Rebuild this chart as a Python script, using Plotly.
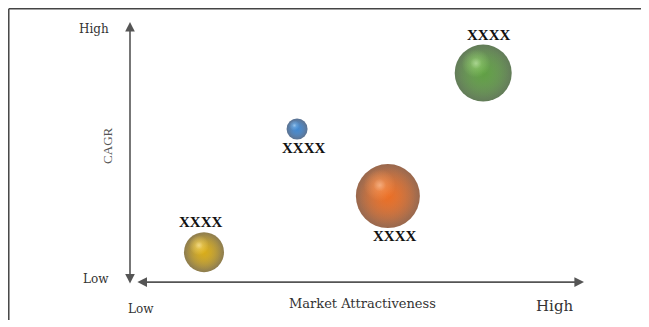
import plotly.graph_objects as go

# ---- data ----
segments = ["Segment A", "Segment B", "Segment C", "Segment D"]
market_attractiveness = [1.63, 3.68, 5.68, 7.78]   # x (0-10 scale, Low..High)
cagr = [1.25, 5.93, 3.38, 8.06]                    # y (0-10 scale, Low..High)
market_size = [40, 21, 64, 57]                     # bubble size
labels = ["XXXX", "XXXX", "XXXX", "XXXX"]

# ---- style ----
label_side = [1, -1, -1, 1]          # 1 = above bubble, -1 = below
label_dx = [-4, 6, 7, 5]             # small horizontal nudges (px)
edge_colors = ["#5e4500", "#123563", "#6e2700", "#1f4410"]
main_colors = ["#d4a300", "#2c7bcc", "#e85f0e", "#4f9530"]
glow_colors = ["#ffe070", "#86c2f5", "#ffa060", "#9fdc78"]


def rgba(hex_color, a):
    h = hex_color.lstrip("#")
    r, g, b = int(h[0:2], 16), int(h[2:4], 16), int(h[4:6], 16)
    return "rgba(%d,%d,%d,%.2f)" % (r, g, b, a)


x_tick_labels = ["Low", "High"]
y_tick_labels = ["Low", "High"]

fig = go.Figure()

# main spheres: dark rim -> body colour
fig.add_trace(go.Scatter(
    x=market_attractiveness, y=cagr, mode="markers",
    marker=dict(size=market_size, sizemode="diameter", sizeref=1,
                color=edge_colors,
                gradient=dict(type="radial", color=main_colors),
                line=dict(width=0)),
    hoverinfo="skip", showlegend=False))
# body colour boost
fig.add_trace(go.Scatter(
    x=market_attractiveness, y=cagr, mode="markers",
    marker=dict(size=[s * 0.9 for s in market_size], sizemode="diameter", sizeref=1,
                color=[rgba(c, 0) for c in main_colors],
                gradient=dict(type="radial", color=[rgba(c, 1) for c in main_colors]),
                line=dict(width=0)),
    hoverinfo="skip", showlegend=False))

# specular highlights (offset up-left, proportional to bubble size)
hx = [x - s * 0.0028 for x, s in zip(market_attractiveness, market_size)]
hy = [y + s * 0.0065 for y, s in zip(cagr, market_size)]
fig.add_trace(go.Scatter(
    x=hx, y=hy, mode="markers",
    marker=dict(size=[s * 0.5 for s in market_size], sizemode="diameter", sizeref=1,
                color=[rgba(c, 0) for c in glow_colors],
                gradient=dict(type="radial", color=[rgba(c, 0.95) for c in glow_colors]),
                line=dict(width=0)),
    hoverinfo="skip", showlegend=False))
fig.add_trace(go.Scatter(
    x=hx, y=hy, mode="markers",
    marker=dict(size=[s * 0.2 for s in market_size], sizemode="diameter", sizeref=1,
                color="rgba(255,255,255,0)",
                gradient=dict(type="radial", color="rgba(255,255,255,0.35)"),
                line=dict(width=0)),
    hoverinfo="skip", showlegend=False))

# labels
for x, y, s, t, side, dx in zip(market_attractiveness, cagr, market_size, labels, label_side, label_dx):
    fig.add_annotation(
        x=x, y=y, text="<b>%s</b>" % t, showarrow=False,
        yshift=(s / 2 + (10 if side > 0 else 8)) * side,
        xshift=dx,
        font=dict(family="Liberation Serif", size=15, color="#111"))

# axes arrows
fig.add_annotation(x=0, y=10, ax=0, ay=0, xref="x", yref="y", axref="x", ayref="y",
                   text="", showarrow=True, arrowhead=2, arrowside="end+start",
                   arrowsize=1.2, arrowwidth=1.6, arrowcolor="#555")
fig.add_annotation(x=10, y=0.11, ax=0.13, ay=0.11, xref="x", yref="y", axref="x", ayref="y",
                   text="", showarrow=True, arrowhead=2, arrowside="end+start",
                   arrowsize=1.2, arrowwidth=1.6, arrowcolor="#555")

serif = "DejaVu Serif"
# y tick labels
fig.add_annotation(x=-0.042, y=10, xref="paper", yref="y", yshift=-7, xanchor="right",
                   text=y_tick_labels[1], showarrow=False,
                   font=dict(family=serif, size=12, color="#333"))
fig.add_annotation(x=-0.042, y=0, xref="paper", yref="y", yshift=6, xanchor="right",
                   text=y_tick_labels[0], showarrow=False,
                   font=dict(family=serif, size=12, color="#333"))
# x tick labels
fig.add_annotation(x=-0.008, y=0, xref="paper", yref="y", yshift=-24, xanchor="left",
                   text=x_tick_labels[0], showarrow=False,
                   font=dict(family=serif, size=12, color="#333"))
fig.add_annotation(x=0.98, y=0, xref="paper", yref="y", yshift=-21, xanchor="right",
                   text=x_tick_labels[1], showarrow=False,
                   font=dict(family=serif, size=15, color="#333"))
# axis titles
fig.add_annotation(x=0.513, y=0, xref="paper", yref="y", yshift=-18, xanchor="center",
                   text="Market Attractiveness", showarrow=False,
                   font=dict(family=serif, size=13, color="#333"))
fig.add_annotation(x=-0.05, y=5.3, xref="paper", yref="y", textangle=-90,
                   xanchor="center", yanchor="middle",
                   text="CAGR", showarrow=False,
                   font=dict(family="Liberation Serif", size=13, color="#555"))

# frame (top and left edges)
fig.add_shape(type="line", xref="paper", yref="paper", x0=-0.267, x1=1.2, y0=1.05, y1=1.05,
              line=dict(color="#444", width=1.5))
fig.add_shape(type="line", xref="paper", yref="paper", x0=-0.267, x1=-0.267, y0=1.05, y1=-0.133,
              line=dict(color="#444", width=1.5))

fig.update_xaxes(range=[0, 10], visible=False)
fig.update_yaxes(range=[0, 10], visible=False)
fig.update_layout(
    width=649, height=327,
    margin=dict(l=122, r=73, t=14, b=50),
    plot_bgcolor="white", paper_bgcolor="white",
)

fig.write_html("out.html")
